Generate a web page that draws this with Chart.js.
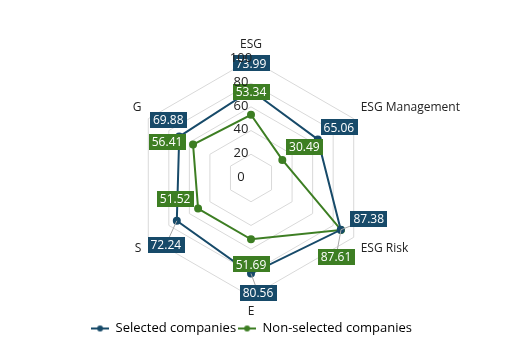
<!DOCTYPE html>
<html>
<head>
<meta charset="utf-8">
<script src="https://cdn.jsdelivr.net/npm/chart.js@4"></script>
<style>
  html, body { margin: 0; padding: 0; background: #fff; }
  #wrap { width: 519px; height: 351px; }
</style>
</head>
<body>
<div id="wrap"><canvas id="radarChart"></canvas></div>
<script>
const categories = ['ESG', 'ESG Management', 'ESG Risk', 'E', 'S', 'G'];
const selectedValues = [73.99, 65.06, 87.38, 80.56, 72.24, 69.88];
const nonSelectedValues = [53.34, 30.49, 87.61, 51.69, 51.52, 56.41];
const tickValues = [0, 20, 40, 60, 80, 100];

const BLUE = '#174a69';
const GREEN = '#3d7e23';
const FONT = "'Open Sans', 'Noto Sans', sans-serif";

// where each value box sits relative to its point: [dx, dy, leader line?]
const selectedOffsets = [[0, -27, false], [21, -12, false], [28, -11, true], [7, 19, true], [-11, 24, true], [-11, -17, false]];
const nonSelectedOffsets = [[0, -23, false], [22, -13, false], [-5, 27, true], [0, 25, false], [-23, -10, false], [-26, -3, false]];

function legendIcon(color) {
  const c = document.createElement('canvas');
  c.width = 18; c.height = 10;
  const g = c.getContext('2d');
  g.strokeStyle = color; g.lineWidth = 2;
  g.beginPath(); g.moveTo(0, 5); g.lineTo(18, 5); g.stroke();
  g.fillStyle = color;
  g.beginPath(); g.arc(9, 5, 3, 0, Math.PI * 2); g.fill();
  return c;
}

const valueBoxes = {
  id: 'valueBoxes',
  afterDatasetsDraw(chart) {
    const ctx = chart.ctx;
    const items = [];
    chart.data.datasets.forEach((ds, i) => {
      chart.getDatasetMeta(i).data.forEach((pt, j) => {
        const [dx, dy, lead] = ds.boxOffsets[j];
        items.push({ x: pt.x, y: pt.y, bx: pt.x + dx, by: pt.y + dy, lead, color: ds.borderColor, text: ds.data[j].toFixed(2) });
      });
    });
    ctx.save();
    ctx.strokeStyle = '#a6a6a6';
    ctx.lineWidth = 1;
    items.forEach(it => {
      if (!it.lead) return;
      ctx.beginPath(); ctx.moveTo(it.x, it.y); ctx.lineTo(it.bx, it.by); ctx.stroke();
    });
    ctx.font = '12px ' + FONT;
    ctx.textAlign = 'center';
    ctx.textBaseline = 'middle';
    items.forEach(it => {
      const w = ctx.measureText(it.text).width + 6;
      const h = 16;
      ctx.fillStyle = it.color;
      ctx.fillRect(Math.round(it.bx - w / 2), Math.round(it.by - h / 2), Math.round(w), h);
      ctx.fillStyle = '#ffffff';
      ctx.fillText(it.text, it.bx, it.by + 1);
    });
    ctx.restore();
  },
  afterDraw(chart) {
    // tick labels sit a little left of the centre line and on top of everything
    const scale = chart.scales.r;
    const ctx = chart.ctx;
    ctx.save();
    ctx.font = '13px ' + FONT;
    ctx.fillStyle = '#222';
    ctx.textAlign = 'center';
    ctx.textBaseline = 'middle';
    tickValues.forEach(v => {
      const y = scale.yCenter - scale.getDistanceFromCenterForValue(v);
      ctx.fillText(String(v), scale.xCenter - 10, y - 1);
    });
    ctx.restore();
  }
};

new Chart(document.getElementById('radarChart'), {
  type: 'radar',
  data: {
    labels: categories,
    datasets: [
      {
        label: 'Selected companies',
        data: selectedValues,
        borderColor: BLUE,
        backgroundColor: BLUE,
        pointBackgroundColor: BLUE,
        borderWidth: 2,
        pointRadius: 3,
        fill: false,
        boxOffsets: selectedOffsets
      },
      {
        label: 'Non-selected companies',
        data: nonSelectedValues,
        borderColor: GREEN,
        backgroundColor: GREEN,
        pointBackgroundColor: GREEN,
        borderWidth: 2,
        pointRadius: 3,
        fill: false,
        boxOffsets: nonSelectedOffsets
      }
    ]
  },
  options: {
    responsive: true,
    maintainAspectRatio: false,
    animation: false,
    layout: { padding: { top: 37, bottom: 6, left: 0, right: 16 } },
    plugins: {
      legend: {
        position: 'bottom',
        labels: {
          usePointStyle: true,
          pointStyleWidth: 18,
          boxHeight: 10,
          padding: 2,
          color: '#222',
          font: { family: FONT, size: 13 },
          generateLabels(chart) {
            return chart.data.datasets.map((ds, i) => ({
              text: ds.label,
              pointStyle: legendIcon(ds.borderColor),
              fillStyle: ds.borderColor,
              strokeStyle: ds.borderColor,
              lineWidth: 0,
              hidden: false,
              datasetIndex: i
            }));
          }
        }
      },
      tooltip: { enabled: false }
    },
    scales: {
      r: {
        min: 0,
        max: 100,
        ticks: { stepSize: 20, display: false },
        grid: { color: '#d9d9d9', lineWidth: 1 },
        angleLines: { display: false },
        pointLabels: {
          color: '#222',
          padding: 8,
          font: { family: FONT, size: 12 }
        }
      }
    }
  },
  plugins: [valueBoxes]
});
</script>
</body>
</html>
